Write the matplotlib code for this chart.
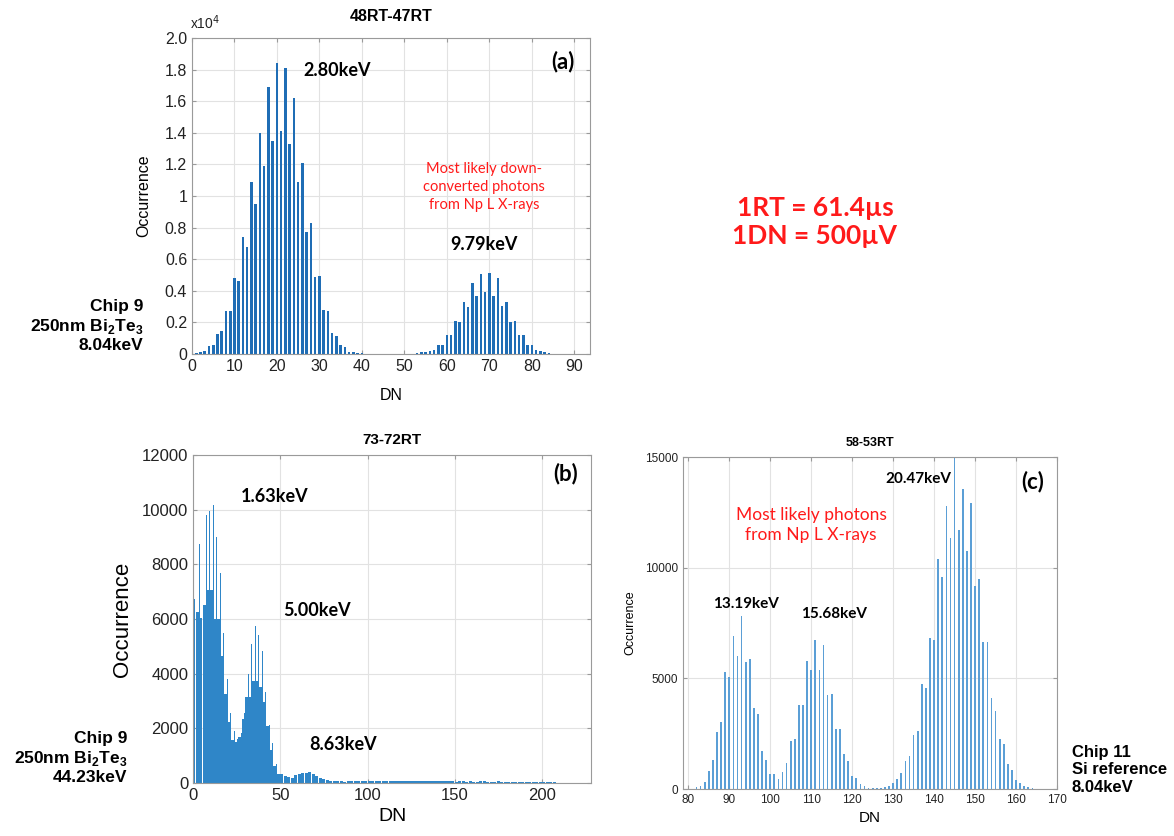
import matplotlib
matplotlib.use("Agg")
import matplotlib.pyplot as plt

# ---------------- data ----------------
# Panel (a): 48RT-47RT, occurrence in units of 1e4
a_dn = list(range(1, 89))
a_counts_e4 = [
    0.005, 0.015, 0.017, 0.053, 0.06, 0.125, 0.144, 0.27, 0.27, 0.48,      # 1-10
    0.46, 0.74, 0.68, 1.09, 0.95, 1.40, 1.19, 1.69, 1.35, 1.84,            # 11-20
    1.41, 1.81, 1.33, 1.62, 1.09, 1.21, 0.77, 0.83, 0.49, 0.495,           # 21-30
    0.28, 0.27, 0.13, 0.115, 0.06, 0.042, 0.015, 0.01, 0.006, 0.004,       # 31-40
    0.002, 0.002, 0.001, 0.001, 0.0, 0.0, 0.0, 0.0, 0.0, 0.0,              # 41-50
    0.002, 0.002, 0.006, 0.01, 0.015, 0.02, 0.027, 0.06, 0.06, 0.12,       # 51-60
    0.12, 0.21, 0.20, 0.33, 0.30, 0.45, 0.365, 0.505, 0.39, 0.51,          # 61-70
    0.37, 0.48, 0.305, 0.33, 0.205, 0.21, 0.12, 0.12, 0.06, 0.06,          # 71-80
    0.027, 0.02, 0.01, 0.006, 0.003, 0.002, 0.001, 0.001,                  # 81-88
]

# Panel (b): 73-72RT, 2-DN blocks (broad fill + narrow spike) below DN 50
b_block_dn = list(range(0, 50, 2))
b_fill = [6750, 6270, 6050, 6510, 7060, 7060, 5990, 5990, 4650, 3250,
          2215, 1580, 1510, 1680, 2340, 3160, 3160, 3750, 3750, 3500,
          2980, 2070, 1200, 630, 330]
b_spike = [9270, 8760, 8850, 9820, 9940, 10160, 9000, 7700, 5480, 3820,
           2555, 1920, 1605, 1825, 2555, 3990, 5075, 5760, 5415, 4830,
           3335, 2130, 1460, 700, 330]
b_tail_dn = list(range(50, 216, 2))
b_tail = [330, 250, 220, 200, 300, 340, 380, 360, 390, 330,
          260, 190, 150, 110, 90, 70, 60, 55, 50, 60,
          55, 60, 70, 75, 80, 70, 75, 85, 80, 90,
          75, 80, 70, 80, 75, 85, 80, 70, 75, 65,
          70, 60, 65, 70, 60, 55, 65, 60, 55, 60,
          50, 55, 60, 50, 55, 45, 50, 55, 60, 50,
          45, 50, 55, 45, 40, 45, 50, 40, 35, 40,
          35, 30, 35, 30, 25, 30, 25, 20, 20, 15,
          15, 10, 10]

# Panel (c): 58-53RT
c_dn = list(range(80, 165))
c_counts = [15, 20,
            75, 150, 330, 830, 1320, 2560, 3010, 5300, 5050, 6930,       # 82-91
            6000, 7820, 5730, 5880, 3650, 3370, 1730, 1320, 660, 660,     # 92-101
            470, 780, 1160, 2170, 2260, 3790, 3790, 5780, 5370, 6740,     # 102-111
            5380, 6510, 4230, 4300, 2720, 2690, 1560, 1250, 600, 480,     # 112-121
            225, 120, 60, 45, 45, 60, 90, 150, 255, 470,                  # 122-131
            710, 1250, 1490, 2420, 2630, 4740, 4570, 6830, 6710, 10380,   # 132-141
            9600, 12780, 11360, 15300, 11700, 13570, 10770, 12930, 9160, 9480,  # 142-151
            6620, 6620, 4090, 3520, 2260, 2030, 1130, 870, 420, 270,      # 152-161
            120, 75, 30]                                                  # 162-164

a_yticks = [0, 0.2, 0.4, 0.6, 0.8, 1.0, 1.2, 1.4, 1.6, 1.8, 2.0]
a_yticklabels = ["0", "0.2", "0.4", "0.6", "0.8", "1", "1.2", "1.4", "1.6", "1.8", "2.0"]

# ---------------- figure ----------------
AX = "Liberation Sans"
CAL = "Lato"
plt.rcParams["font.family"] = [AX, "DejaVu Sans"]

fig = plt.figure(figsize=(11.74, 8.36), dpi=100)
W, H = 1174, 836


def rect(l, r, t, b):
    return [l / W, (H - b) / H, (r - l) / W, (b - t) / H]


def style(ax, tick_fs):
    ax.grid(True, color="#e2e2e2", lw=0.8)
    ax.set_axisbelow(True)
    for s in ax.spines.values():
        s.set_color("#9a9a9a")
        s.set_linewidth(0.8)
    ax.tick_params(direction="in", length=3, color="#9a9a9a", labelsize=tick_fs,
                   top=True, right=True, labelcolor="#222222")


# Panel (a)
ax1 = fig.add_axes(rect(192, 590, 38, 354))
ax1.bar(a_dn, a_counts_e4, width=0.6, color="#1f6db5", zorder=2)
ax1.set_xlim(0, 93.7)
ax1.set_ylim(0, 2.0)
ax1.set_xticks(range(0, 91, 10))
ax1.set_yticks(a_yticks)
ax1.set_yticklabels(a_yticklabels)
style(ax1, 11.5)
ax1.set_xlabel("DN", fontsize=11.5, labelpad=10)
ax1.set_ylabel("Occurrence", fontsize=11.5, labelpad=10)
ax1.set_title("48RT-47RT", fontsize=11.5, fontweight="bold", pad=12)
fig.text(190 / W, 1 - 23 / H, r"x10$^4$", fontsize=10, ha="left", va="center", color="#222222")
fig.text(337 / W, 1 - 70 / H, "2.80keV", fontsize=13, fontweight="bold", family=CAL, ha="center", va="center")
fig.text(484 / W, 1 - 244 / H, "9.79keV", fontsize=13, fontweight="bold", family=CAL, ha="center", va="center")
fig.text(563 / W, 1 - 62 / H, "(a)", fontsize=16, fontweight="bold", family=CAL, ha="center", va="center")
fig.text(484 / W, 1 - 187 / H, "Most likely down-\nconverted photons\nfrom Np L X-rays",
         fontsize=10.5, family=CAL, color="#ff1a1a", ha="center", va="center", linespacing=1.4)
fig.text(143 / W, 1 - 326 / H, "Chip 9\n250nm Bi$_\\mathregular{2}$Te$_\\mathregular{3}$\n8.04keV",
         fontsize=12.5, fontweight="bold", ha="right", va="center", linespacing=1.2)

# red info text
fig.text(815 / W, 1 - 222 / H, "1RT = 61.4µs\n1DN = 500µV", fontsize=19, fontweight="bold",
         family=CAL, color="#ff1a1a", ha="center", va="center", linespacing=1.2)

# Panel (b)
ax2 = fig.add_axes(rect(193, 591, 455, 783))
ax2.bar(b_block_dn, b_fill, width=1.35, align="edge", color="#2f86c8", zorder=2)
ax2.bar([d + 1.45 for d in b_block_dn], b_spike, width=0.42, align="edge", color="#2f86c8", zorder=2)
ax2.bar(b_tail_dn, b_tail, width=1.8, align="edge", color="#2f86c8", zorder=2)
ax2.set_xlim(0, 228)
ax2.set_ylim(0, 12000)
ax2.set_xticks([0, 50, 100, 150, 200])
ax2.set_yticks(range(0, 12001, 2000))
style(ax2, 12)
ax2.set_xlabel("DN", fontsize=14, labelpad=4)
ax2.set_ylabel("Occurrence", fontsize=16, labelpad=6)
ax2.set_title("73-72RT", fontsize=11, fontweight="bold", pad=8)
fig.text(275 / W, 1 - 497 / H, "1.63keV", fontsize=13, fontweight="bold", family=CAL, ha="center", va="center")
fig.text(317 / W, 1 - 611 / H, "5.00keV", fontsize=13, fontweight="bold", family=CAL, ha="center", va="center")
fig.text(343 / W, 1 - 745 / H, "8.63keV", fontsize=13, fontweight="bold", family=CAL, ha="center", va="center")
fig.text(566 / W, 1 - 474 / H, "(b)", fontsize=16, fontweight="bold", family=CAL, ha="center", va="center")
fig.text(127 / W, 1 - 758 / H, "Chip 9\n250nm Bi$_\\mathregular{2}$Te$_\\mathregular{3}$\n44.23keV",
         fontsize=12.5, fontweight="bold", ha="right", va="center", linespacing=1.2)

# Panel (c)
ax3 = fig.add_axes(rect(683, 1057, 457, 789))
ax3.bar(c_dn, c_counts, width=0.42, color="#5b9fd6", zorder=2)
ax3.set_xlim(78.7, 170)
ax3.set_ylim(0, 15000)
ax3.set_xticks(range(80, 171, 10))
ax3.set_yticks([0, 5000, 10000, 15000])
style(ax3, 8.5)
ax3.set_xlabel("DN", fontsize=11, labelpad=4)
ax3.set_ylabel("Occurrence", fontsize=9, labelpad=6)
ax3.set_title("58-53RT", fontsize=9, fontweight="bold", pad=8)
fig.text(918 / W, 1 - 479 / H, "20.47keV", fontsize=11, fontweight="bold", family=CAL, ha="center", va="center")
fig.text(746 / W, 1 - 604 / H, "13.19keV", fontsize=11, fontweight="bold", family=CAL, ha="center", va="center")
fig.text(834 / W, 1 - 614 / H, "15.68keV", fontsize=11, fontweight="bold", family=CAL, ha="center", va="center")
fig.text(1033 / W, 1 - 482 / H, "(c)", fontsize=16, fontweight="bold", family=CAL, ha="center", va="center")
fig.text(811 / W, 1 - 525 / H, "Most likely photons\nfrom Np L X-rays", fontsize=12.5, family=CAL,
         color="#ff1a1a", ha="center", va="center", linespacing=1.3)
fig.text(1072 / W, 1 - 770 / H, "Chip 11\nSi reference\n8.04keV", fontsize=12, fontweight="bold",
         ha="left", va="center", linespacing=1.2)

fig.savefig("out.png", dpi=100, facecolor="white")
